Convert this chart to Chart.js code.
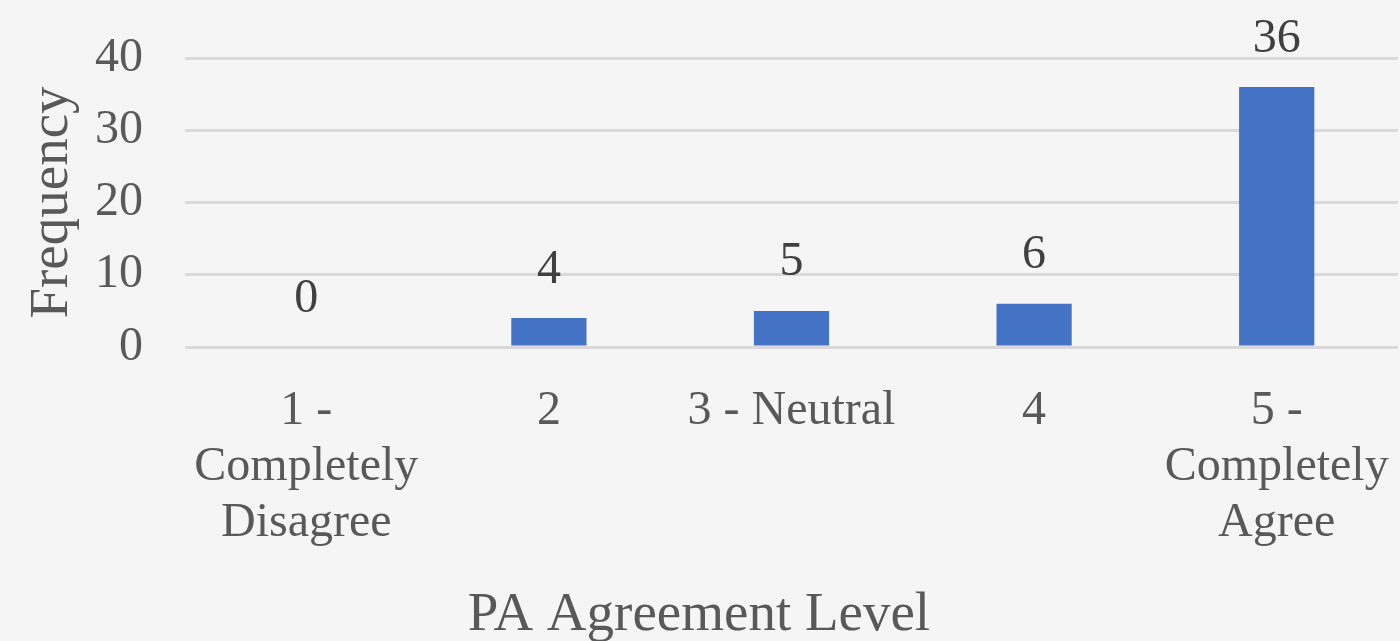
<!DOCTYPE html>
<html>

<head>
    <meta charset="utf-8" />
    <title>PA Agreement Level</title>
    <script src="https://cdn.jsdelivr.net/npm/chart.js"></script>
    <style>
        html, body { margin: 0; padding: 0; background: #f5f5f5; }
    </style>
</head>

<body>
    <canvas id="myChart" width="1400" height="641"></canvas>

    <script type="text/javascript">
        // chart data
        const categories = [
            ["1 -", "Completely", "Disagree"],
            "2",
            "3 - Neutral",
            "4",
            ["5 -", "Completely", "Agree"]
        ];
        const frequency = [0, 4, 5, 6, 36];
        const yTicks = [0, 10, 20, 30, 40];

        const serif = "'Liberation Serif', 'Times New Roman', serif";

        // draws the value above each bar
        const barLabels = {
            id: 'barLabels',
            afterDatasetsDraw(chart) {
                const ctx = chart.ctx;
                const meta = chart.getDatasetMeta(0);
                ctx.save();
                ctx.font = "48px " + serif;
                ctx.fillStyle = "#404040";
                ctx.textAlign = "center";
                ctx.textBaseline = "middle";
                meta.data.forEach((bar, i) => {
                    ctx.fillText(String(frequency[i]), bar.x, bar.y - 48);
                });
                ctx.restore();
            }
        };

        const ctx = document.getElementById('myChart');
        new Chart(ctx, {
            type: 'bar',
            data: {
                labels: categories,
                datasets: [{
                    label: "Frequency",
                    data: frequency,
                    backgroundColor: "#4472C4",
                    barPercentage: 0.31,
                    categoryPercentage: 1
                }]
            },
            options: {
                responsive: false,
                animation: false,
                layout: { autoPadding: false, padding: { top: 58, right: 2, left: 0, bottom: 0 } },
                plugins: {
                    legend: { display: false },
                    tooltip: { enabled: false },
                    // x axis title, centred on the whole picture
                    title: {
                        display: true,
                        position: 'bottom',
                        text: "PA Agreement Level",
                        color: "#595959",
                        font: { family: serif, size: 55, weight: 'normal', lineHeight: 0.84 },
                        padding: { top: 0, bottom: 2 }
                    }
                },
                scales: {
                    x: {
                        grid: { display: false },
                        border: { display: false },
                        ticks: {
                            color: "#595959",
                            font: { family: serif, size: 48, lineHeight: 1.17 },
                            padding: 28,
                            maxRotation: 0,
                            autoSkip: false
                        },
                        afterFit(axis) {
                            axis.height = 294 - (55 * 0.84 + 2);
                            axis.paddingLeft = 0;
                            axis.paddingRight = 0;
                        }
                    },
                    y: {
                        min: 0,
                        max: 40,
                        afterBuildTicks(axis) { axis.ticks = yTicks.map(v => ({ value: v })); },
                        grid: { color: "#d9d9d9", lineWidth: 3, drawTicks: false },
                        border: { display: false },
                        ticks: {
                            color: "#595959",
                            font: { family: serif, size: 48 },
                            padding: 42
                        },
                        title: {
                            display: true,
                            text: "Frequency",
                            color: "#595959",
                            font: { family: serif, size: 55, lineHeight: 1 },
                            padding: { top: 25, bottom: 0 }
                        },
                        afterFit(axis) {
                            axis.width = 185;
                            axis.paddingTop = 0;
                            axis.paddingBottom = 0;
                        }
                    }
                }
            },
            plugins: [barLabels, {
                id: 'bg',
                beforeDraw(chart) {
                    const c = chart.ctx;
                    c.save();
                    c.fillStyle = "#f5f5f5";
                    c.fillRect(0, 0, chart.width, chart.height);
                    c.restore();
                }
            }]
        });
    </script>

</body>

</html>
